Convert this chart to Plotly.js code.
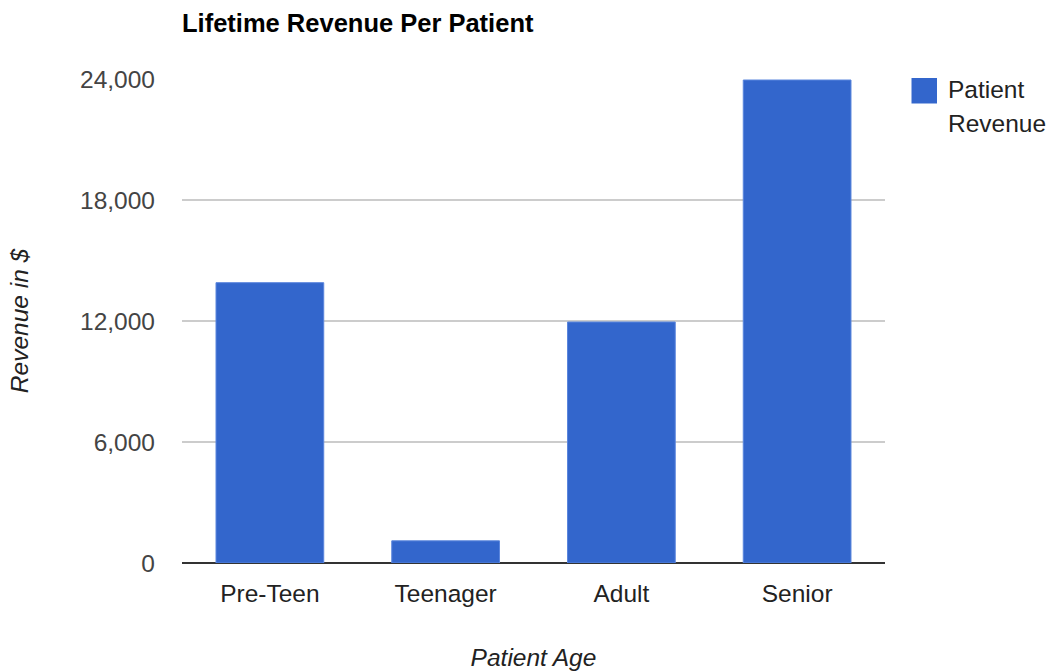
<!DOCTYPE html>
<html>
<head>
<meta charset="utf-8">
<script src="https://cdn.plot.ly/plotly-3.0.1.min.js"></script>
<style>html,body{margin:0;padding:0;background:#fff;}#chart{width:1055px;height:671px;}</style>
</head>
<body>
<div id="chart"></div>
<script>
const categories = ["Pre-Teen", "Teenager", "Adult", "Senior"];
const revenue = [13900, 1100, 11950, 23950];
const seriesName = "Patient Revenue";
const tickValues = [0, 6000, 12000, 18000, 24000];
const tickLabels = ["0", "6,000", "12,000", "18,000", "24,000"];
const chartTitle = "Lifetime Revenue Per Patient";
const xTitle = "Patient Age";
const yTitle = "Revenue in $";

const FONT = "Liberation Sans, Arial, sans-serif";
const BLUE = "#3366cc";

const trace = {
  type: "bar",
  x: categories,
  y: revenue,
  name: seriesName,
  marker: {color: BLUE, line: {color: "#5b86dd", width: 1}},
  hoverinfo: "x+y"
};

const layout = {
  width: 1055,
  height: 671,
  margin: {l: 182, r: 170, t: 79, b: 108},
  paper_bgcolor: "#fff",
  plot_bgcolor: "#fff",
  showlegend: false,
  bargap: 0.387,
  font: {family: FONT, size: 24, color: "#222"},
  title: {
    text: "<b>" + chartTitle + "</b>",
    font: {family: FONT, size: 25.5, color: "#000"},
    xref: "paper", x: 0, xanchor: "left",
    yref: "container", y: 1 - 23 / 671, yanchor: "middle"
  },
  xaxis: {
    type: "category",
    showgrid: false,
    showline: false,
    zeroline: false,
    ticks: "",
    ticklabelstandoff: 13,
    tickfont: {family: FONT, size: 24.5, color: "#222"},
    title: {text: "<i>" + xTitle + "</i>", font: {family: FONT, size: 24.5, color: "#222"}, standoff: 46}
  },
  yaxis: {
    range: [0, 24000],
    tickvals: tickValues,
    ticktext: tickLabels,
    showgrid: true,
    gridcolor: "#cccccc",
    gridwidth: 1.5,
    zeroline: true,
    zerolinecolor: "#333333",
    zerolinewidth: 2,
    showline: false,
    ticks: "",
    ticklabelstandoff: 26,
    tickfont: {family: FONT, size: 24.5, color: "#444"},
    title: {text: "<i>" + yTitle + "</i>", font: {family: FONT, size: 24.5, color: "#222"}, standoff: 44}
  },
  shapes: [{
    type: "rect", xref: "paper", yref: "paper",
    x0: (911.5 - 182) / 703, x1: (937 - 182) / 703,
    y0: (563 - 103.5) / 484, y1: (563 - 78) / 484,
    fillcolor: BLUE, line: {width: 0}
  }],
  annotations: [{
    text: seriesName.replace(" ", "<br>"),
    xref: "paper", yref: "paper",
    x: (946 - 182) / 703, xanchor: "left",
    y: (563 - 74) / 484, yanchor: "top",
    align: "left",
    showarrow: false,
    font: {family: FONT, size: 24.5, color: "#222"}
  }]
};

Plotly.newPlot("chart", [trace], layout, {displayModeBar: false, staticPlot: true}).then(function () {
  // widen legend line spacing to match reference
  document.querySelectorAll(".annotation-text tspan.line").forEach(function (t, i) {
    if (i > 0) t.setAttribute("dy", "1.4em");
  });
});
</script>
</body>
</html>
